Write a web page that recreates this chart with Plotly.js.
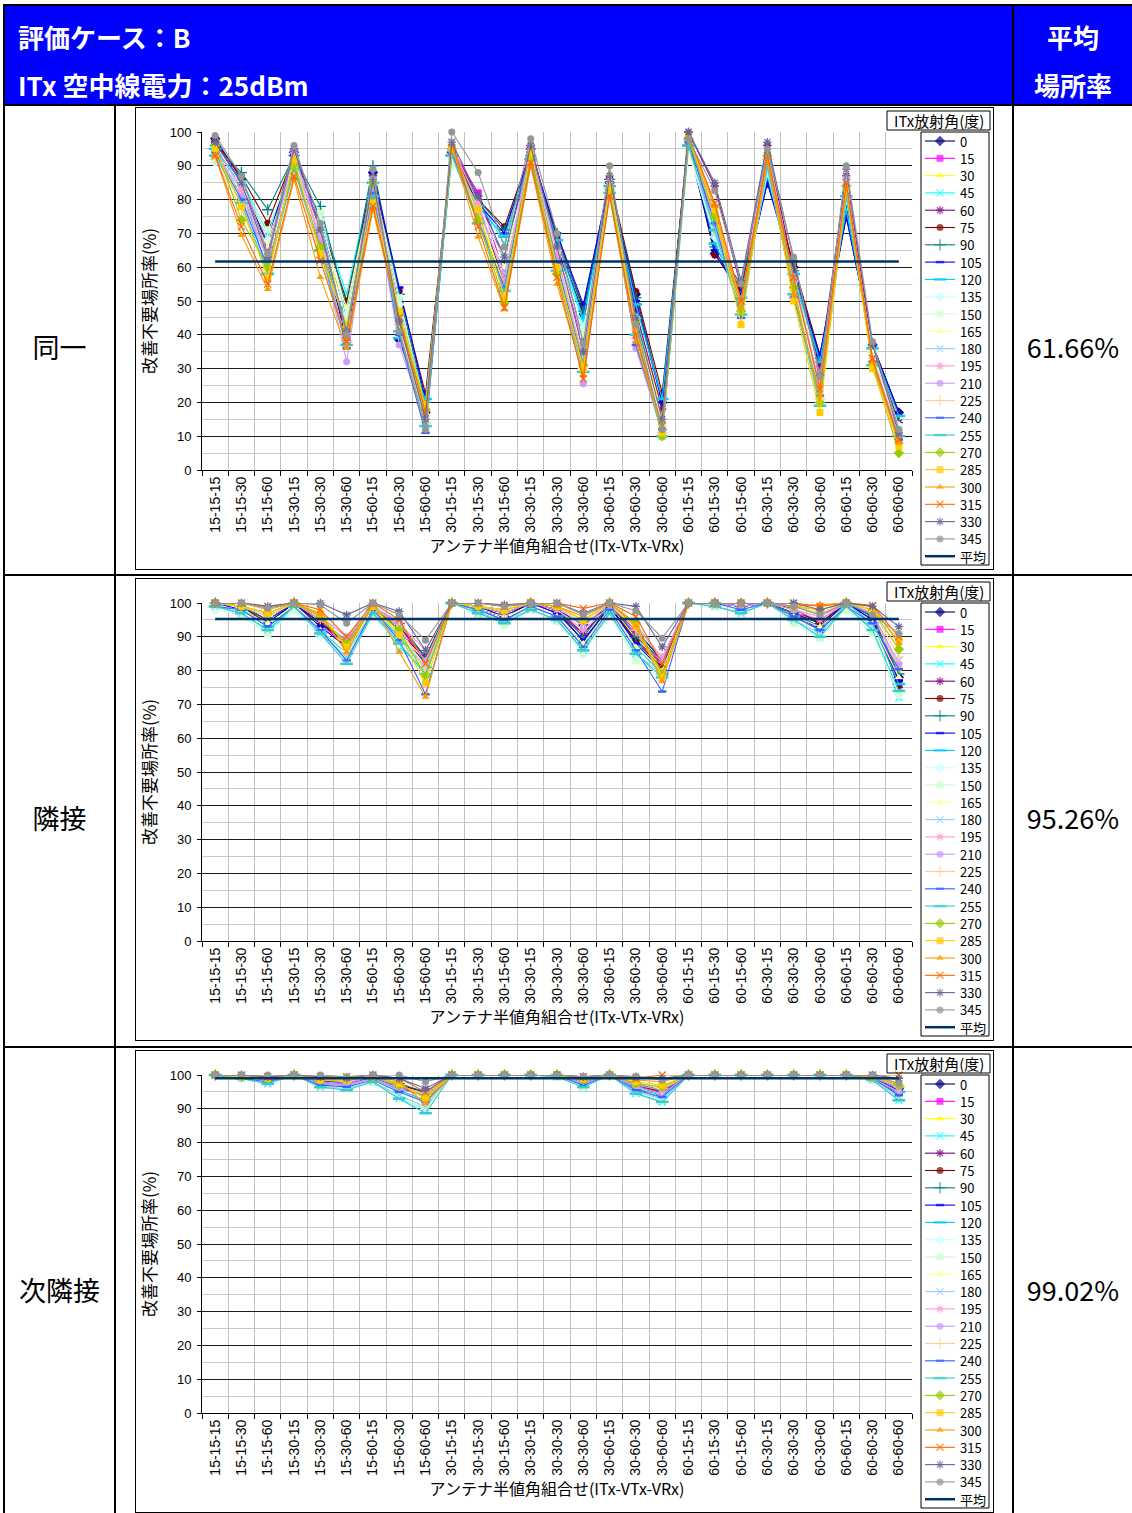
<!DOCTYPE html>
<html><head><meta charset="utf-8">
<script src="https://cdn.plot.ly/plotly-3.0.1.min.js"></script>
<style>
body{margin:0;background:#fff;}
#page{position:relative;width:1132px;height:1513px;overflow:hidden;font-family:"Noto Sans CJK JP",sans-serif;}
.blk{position:absolute;background:#000;}
.txt{position:absolute;white-space:nowrap;line-height:1;}
.hdr{color:#fff;font-weight:bold;font-size:26px;}
.lab{color:#000;font-size:27px;text-align:center;}
.frame{position:absolute;border:1px solid #000;box-sizing:border-box;background:#fff;}
.chart{position:absolute;}
</style></head><body>
<div id="page">
  <div style="position:absolute;left:3px;top:4px;width:1129px;height:101px;background:#0000ff"></div>
  <div class="blk" style="left:3px;top:4px;width:1129px;height:2px"></div>
  <div class="blk" style="left:3px;top:4px;width:2px;height:1509px"></div>
  <div class="blk" style="left:3px;top:104px;width:1129px;height:2px"></div>
  <div class="blk" style="left:3px;top:574px;width:1129px;height:2px"></div>
  <div class="blk" style="left:3px;top:1046px;width:1129px;height:2px"></div>
  <div class="blk" style="left:114px;top:105px;width:2px;height:1408px"></div>
  <div class="blk" style="left:1012px;top:4px;width:2px;height:1509px"></div>
  <div class="txt hdr" style="left:18px;top:24px;">評価ケース：B</div>
  <div class="txt hdr" style="left:18px;top:72px;">ITx 空中線電力：25dBm</div>
  <div class="txt hdr" style="left:1014px;width:118px;text-align:center;top:24px;">平均</div>
  <div class="txt hdr" style="left:1014px;width:118px;text-align:center;top:72px;">場所率</div>
  <div id="labels"></div>
  <div class="frame" style="left:135px;top:107px;width:859px;height:463px"></div>
  <div class="frame" style="left:135px;top:578px;width:859px;height:463px"></div>
  <div class="frame" style="left:135px;top:1050px;width:859px;height:463px"></div>
  <div id="c1" class="chart" style="left:136px;top:108px;width:857px;height:461px"></div>
  <div id="c2" class="chart" style="left:136px;top:579px;width:857px;height:461px"></div>
  <div id="c3" class="chart" style="left:136px;top:1051px;width:857px;height:461px"></div>
</div>
<script>
// ---- categories / series names ----
const categories = ['15-15-15','15-15-30','15-15-60','15-30-15','15-30-30','15-30-60','15-60-15','15-60-30','15-60-60',
  '30-15-15','30-15-30','30-15-60','30-30-15','30-30-30','30-30-60','30-60-15','30-60-30','30-60-60',
  '60-15-15','60-15-30','60-15-60','60-30-15','60-30-30','60-30-60','60-60-15','60-60-30','60-60-60'];
const angles = [0,15,30,45,60,75,90,105,120,135,150,165,180,195,210,225,240,255,270,285,300,315,330,345];
const rowLabels = ['同一','隣接','次隣接'];
const avgRates = [61.66, 95.26, 99.02];

// ---- 同一 ----
const same0   = [98,86,66, 94,70,38, 88,38.5,17, 94,79,55, 95,68,46, 85,52,20, 98,64,52, 85,60,33, 75,37,17];
const same15  = [97,85,65, 94,70,40, 87,48,17, 95,82,58, 95,67,36, 86,47,14, 99,71,53, 91,59,30, 82,35,11];
const same30  = [95,80,63, 93,68,47, 84,46,19, 96,76,55, 94,60,34, 88,47,16, 99,74,52, 92,55,29, 85,34,15];
const same45  = [94,86,70, 92,75,52, 88,50,18, 92,80,67, 91,66,44, 84,48,10, 95,67,50, 86,57,31, 78,35,14];
const same60  = [98,86,67, 95,72,39, 87,49,17, 95,81,62, 96,67,39, 86,47,18, 100,84,54, 96,59,31, 87,36,14];
const same75  = [97,87,73, 93,74,50, 87,53,22.5, 94,80,72, 94,69,48, 86,52.8,22.8, 97,63.6,54, 86,61,34, 76,37,17];
const same90  = [96,88,77, 93,78,48, 90,52,20, 93,80,71, 93,70,47, 86,51,21, 96,66,55, 86,59,33, 77,36,16];
const same105 = [97,85,68, 93,74,45, 88,54,21, 93,79,70, 94,70,49, 85,50,20, 96,65,52, 85,58,34, 75,37,17];
const same120 = [95,84,58, 90,65,44, 85,39,21, 93,78,69, 92,68,45, 84,49,21, 96,67,51, 87,58,32, 77,36,16];
const same135 = [91,85,68, 90,74,46, 85,49,14, 91,78,64, 90,65,42, 82,45,13, 94,69,48, 88,56,28, 80,35,13];
const same150 = [92,84,71, 91,76,44, 86,51,16, 92,76,63, 90,64,40, 83,42,14, 95,70,49, 90,55,25, 82,34,12];
const same165 = [94,82,66, 92,70,48, 85,47,15, 92,75,60, 91,63,36, 86,44,15, 94,72,48, 90,53,26, 83,33,12];
const same180 = [93,83,64, 91,69,41, 84,42,13, 93,77,58, 92,62,33, 84,41,12, 96,70,46, 89,52,23, 81,33,10];
const same195 = [96,83,62, 94,68,37, 84,42,13, 96,79,56, 95,64,32, 85,38,12, 98,76,50, 93,57,25, 86,33,10];
const same210 = [95,81,62, 94,67,32, 83,37,14, 96,76,52, 93,62,25.5, 84,36,11, 98,73,50, 94,56,24, 86,31,9];
const same225 = [92,77,59, 89,63,38, 80,43,14, 95,73,53, 91,58,30, 83,39,11, 98,78,49, 92,53,21, 84,31,8];
const same240 = [94,80,60, 90,66,36, 82,40,11, 94,74,54, 93,61,31, 83,37,12, 97,73,45, 91,51,22, 82,32,9];
const same255 = [93,79,58, 89,65,37, 81,41,13, 93,73,53, 92,59,29, 82,40,10, 96,71,46, 90,52,19, 81,31,10];
const same270 = [96,74,60, 90,66,42, 85,46,18, 95,74,49.5, 92,58,31, 83,44,10, 98,75,47, 93,54,20, 84,31,5];
const same285 = [95,78,57, 92,64,43, 79,47,19, 95,77,51, 94,60,30, 84,42,11, 99,77,43, 92,50,17, 83,30,7];
const same300 = [93,69.5,53.5, 86,57,36, 77,44,15, 96,69,47.5, 90,55,28, 81,38,12, 99,78,48, 92,52,22, 84,32,8];
const same315 = [93,72,55, 87,62,38, 78,45,17, 97,72,48, 91,57,27, 81,40,13, 99,79,50, 93,57,24, 85,33,9];
const same330 = [97,85,63, 95,71,41, 86,44,15, 97,81,63, 96,66,35, 87,45,15, 100,85,56, 97,62,28, 89,37,11];
const same345 = [99,87,64, 96,73,40, 89,41,12, 100,88,66, 98,70,37.5, 90,43,12, 98,82.6,55, 95,63,27.6, 90,38,12];

// ---- 隣接 ----
const adj0   = [100,99,95, 100,95,88, 99,93,84, 100,99,96, 100,98,93.5, 99,92,83, 100,100,99, 100,97,94, 100,96,78];
const adj15  = [100,99,96, 100,94,87, 99,93,83, 100,98,96, 100,97,91, 99,91,82, 100,100,99, 100,97,95, 100,97,77];
const adj30  = [100,99,96, 100,96,86, 99,91,80, 100,99,97, 100,98,92, 99,90,80, 100,100,99, 100,98,96, 100,97,80];
const adj45  = [99,97,91, 99,91,84, 97,87,80, 100,97,94, 98,95,86, 97,85,78, 100,99,97, 100,95,90, 99,92,72];
const adj60  = [100,99,95, 100,94,89, 99,93,84, 100,99,97, 100,98,91, 99,89,82, 100,100,99, 100,97,92, 100,96,75];
const adj75  = [100,99,94, 100,94,88, 99,92,83, 100,98,96, 100,98,88.6, 99,88.6,81, 100,100,99, 100,98.3,94, 100,95,75.8];
const adj90  = [100,99,95, 100,95,88, 99,94,84, 100,99,97, 100,98,90, 100,90,83, 100,100,99, 100,97,93, 100,96,79];
const adj105 = [100,98,94, 100,93,87, 99,92,82, 100,98,96, 100,97,89, 99,88,80, 100,100,99, 100,96,93, 100,95,77];
const adj120 = [99,98,93, 99,92,85, 98,90,81, 100,98,95, 99,96,88, 98,87,79, 100,100,98, 100,96,92, 100,94,76];
const adj135 = [98,97,91, 98,90,84, 96,88,80, 100,97,94, 98,95,85, 97,84,78, 100,99,97, 100,95,90, 98,91,73];
const adj150 = [99,96,91, 98,91,85, 97,89,82, 100,96,93.5, 98,94.5,85, 96.5,83,79, 100,99,97, 100,94,89.6, 98,91,73.4];
const adj165 = [99,98,94, 99,92,86, 98,91,83, 100,98,96, 99,96,88, 98,87,80, 100,100,98, 100,96,93, 99,94,78];
const adj180 = [99,97,92, 99,91,84, 97,89,81, 100,97,95, 98,95,86, 97,85,79, 100,99,97, 100,95,91, 99,93,83];
const adj195 = [100,99,96, 100,95,89, 99,94,86, 100,99,97, 100,98,92, 99,93,84, 100,100,99, 100,98,95, 100,97,81];
const adj210 = [100,99,97, 100,96,90, 99,94.5,82.7, 100,99,98, 100,99,93, 100,94,83, 100,100,99, 100,98,96, 100,97,82];
const adj225 = [100,99,96, 100,96,88, 99,93,80, 100,99,98, 100,99,94, 100,92,79, 100,100,100, 100,99,97, 100,98,84];
const adj240 = [99,98,93, 99,92,83, 98,89,73, 100,98,95, 99,96,87, 98,86,73.8, 100,100,98, 100,96,92, 99,94,80.4];
const adj255 = [99,97,92, 99,91,82, 97,88,79, 100,97,94, 98,95,86, 97,85,78, 100,99,97, 100,95,90, 99,92,74];
const adj270 = [100,99,97, 100,96,88, 99,92,78.3, 100,99,98, 100,99,95, 100,94,79, 100,100,100, 100,99,98, 100,98,86.3];
const adj285 = [100,99,97, 100,97,87, 99,90.6,76.3, 100,99,98, 100,99,95, 100,93,78, 100,100,100, 100,99,98, 100,98,89];
const adj300 = [100,100,98, 100,96.7,85.3, 100,85.6,72.2, 100,100,99, 100,99,96, 100,93.3,76.8, 100,100,100, 100,99,99.6, 100,99,88];
const adj315 = [100,100,99, 100,98,90, 100,95,82, 100,100,99, 100,100,98.4, 100,96,82, 100,100,100, 100,100,99, 100,99.3,90];
const adj330 = [100,100,99, 100,100,96.5, 100,97.5,86, 100,100,99.5, 100,100,97, 100,99,87, 100,100,100, 100,100,98, 100,99,93];
const adj345 = [100,100,98.5, 100,99.5,94, 100,96.5,89, 100,100,99, 100,100,96.5, 100,97.7,89.6, 100,100,100, 100,99,96.5, 100,96.5,91];

// ---- 次隣接 ----
const next0   = [100,99.5,99, 100,98,98, 99.5,97,95, 100,100,100, 100,100,98, 100,97,95, 100,100,100, 100,100,100, 100,99.5,96];
const next15  = [100,99.5,98.5, 100,98,97.5, 99.5,96,94, 100,100,100, 100,100,98, 100,96.5,95, 100,100,100, 100,100,100, 100,99.5,96];
const next30  = [100,99.5,99, 100,98.5,98, 99.5,97,94, 100,100,100, 100,100,98.5, 100,97,95, 100,100,100, 100,100,100, 100,99.5,96.5];
const next45  = [100,99,97.4, 100,96.4,96, 98,93,90, 100,100,100, 100,99.5,96.4, 100,94.5,92, 100,100,100, 100,100,100, 100,98.5,92.5];
const next60  = [100,99.5,98.5, 100,97.5,97, 99.5,96,94, 100,100,100, 100,100,97.5, 100,96,93, 100,100,100, 100,100,100, 100,99,94.5];
const next75  = [100,99.5,99, 100,98,98, 99.5,97,95, 100,100,100, 100,100,98, 100,97,95, 100,100,100, 100,100,100, 100,99.5,96];
const next90  = [100,99.5,99, 100,98.5,98, 99.5,97.5,95, 100,100,100, 100,100,98.5, 100,97.5,95.5, 100,100,100, 100,100,100, 100,99.5,96.5];
const next105 = [100,99.5,98.5, 100,98,97.5, 99.5,96.5,94, 100,100,100, 100,100,98, 100,96.5,94.5, 100,100,100, 100,100,100, 100,99,95.5];
const next120 = [100,99.5,98, 100,97.5,97, 99,95.5,92.5, 100,100,100, 100,100,97.5, 100,96,94, 100,100,100, 100,100,100, 100,99,95];
const next135 = [100,99,97.5, 100,96.5,96, 98,93.5,89.5, 100,100,100, 100,99.5,96.5, 100,95,92.5, 100,100,100, 100,100,100, 100,98.5,93];
const next150 = [100,99,97.5, 100,96.5,96, 98,94,90, 100,100,100, 100,99.5,96.5, 100,95,93, 100,100,100, 100,100,100, 100,98.5,93.5];
const next165 = [100,99.5,98, 100,97,96.5, 98.5,95,91.5, 100,100,100, 100,100,97, 100,95.5,93.5, 100,100,100, 100,100,100, 100,99,94];
const next180 = [100,99,97.5, 100,96.5,96, 98,94,90.5, 100,100,100, 100,99.5,97, 100,95,93, 100,100,100, 100,100,100, 100,98.5,93.5];
const next195 = [100,99.5,98.5, 100,97.5,97, 99,96,93.5, 100,100,100, 100,100,97.5, 100,96.5,94.5, 100,100,100, 100,100,100, 100,99,95];
const next210 = [100,99.5,99, 100,98,97.5, 99.5,96.5,94.5, 100,100,100, 100,100,98, 100,97,95.5, 100,100,100, 100,100,100, 100,99.5,96];
const next225 = [100,99.5,99, 100,98.5,98, 99.5,97,94, 100,100,100, 100,100,98.5, 100,97.5,96, 100,100,100, 100,100,100, 100,99.5,96.5];
const next240 = [100,99,98, 100,97,96.5, 98.5,95,92, 100,100,100, 100,100,97, 100,95.5,93.5, 100,100,100, 100,100,100, 100,99,94];
const next255 = [100,99,97.4, 100,96.4,95.5, 98,93,88.7, 100,100,100, 100,99.5,96.4, 100,94.5,92, 100,100,100, 100,100,100, 100,98.5,92.5];
const next270 = [100,99.5,99, 100,98.5,98.5, 99.5,97,93.5, 100,100,100, 100,100,98.5, 100,97.5,96.5, 100,100,100, 100,100,100, 100,99.5,97];
const next285 = [100,99.5,99, 100,98.5,98.5, 99.5,97.5,93, 100,100,100, 100,100,99, 100,98,97, 100,100,100, 100,100,100, 100,99.5,97.5];
const next300 = [100,100,99.5, 100,99,99, 100,98,91.6, 100,100,100, 100,100,99, 100,98.5,98, 100,100,100, 100,100,100, 100,99.5,98.5];
const next315 = [100,100,99.5, 100,99.5,99.5, 100,99,95, 100,100,100, 100,100,99.5, 100,99,100, 100,100,100, 100,100,100, 100,100,100];
const next330 = [100,100,99.5, 100,99.5,99, 100,99,96, 100,100,100, 100,100,99.5, 100,99.5,99, 100,100,100, 100,100,100, 100,100,99];
const next345 = [100,100,100, 100,100,99.5, 100,100,98, 100,100,100, 100,100,99.5, 100,99.5,98.5, 100,100,100, 100,100,100, 100,100,97.5];

const sameSeries = [same0,same15,same30,same45,same60,same75,same90,same105,same120,same135,same150,same165,same180,same195,same210,same225,same240,same255,same270,same285,same300,same315,same330,same345];
const adjSeries  = [adj0,adj15,adj30,adj45,adj60,adj75,adj90,adj105,adj120,adj135,adj150,adj165,adj180,adj195,adj210,adj225,adj240,adj255,adj270,adj285,adj300,adj315,adj330,adj345];
const nextSeries = [next0,next15,next30,next45,next60,next75,next90,next105,next120,next135,next150,next165,next180,next195,next210,next225,next240,next255,next270,next285,next300,next315,next330,next345];

// ---- styles ----
const colors = ['#000080','#FF00FF','#FFFF00','#00FFFF','#800080','#800000','#008080','#0000FF','#00CCFF','#CCFFFF','#CCFFCC','#FFFF99',
  '#99CCFF','#FF99CC','#CC99FF','#FFCC99','#3366FF','#33CCCC','#99CC00','#FFCC00','#FF9900','#FF6600','#666699','#969696'];
const symbols = ['diamond','square','triangle-up','x-thin-open','asterisk-open','circle','cross-thin-open','line-ew-open','line-ew-open',
  'diamond','square','triangle-up','x-thin-open','asterisk-open','circle','cross-thin-open','line-ew-open','line-ew-open',
  'diamond','square','triangle-up','x-thin-open','asterisk-open','circle'];
const avgColor = '#003366';
const fontJP = '"Noto Sans CJK JP", sans-serif';
const fontNum = '"Liberation Sans", Arial, sans-serif';

function markerFor(i) {
  const s = symbols[i];
  const open = s.endsWith('-open');
  let sz = 7;
  if (s === 'diamond') sz = 8;
  if (s.startsWith('x-thin') || s.startsWith('asterisk')) sz = 7;
  if (s.startsWith('cross')) sz = 8;
  if (s.startsWith('line-ew')) sz = (angles[i] === 120 || angles[i] === 255) ? 9 : 6;
  return {symbol: s, color: colors[i], size: sz,
    line: {color: colors[i], width: open ? (s.startsWith('line-ew') ? 2.5 : 1.3) : 0}};
}

// labels in left and right columns
const rowCenters = [347, 818, 1290];
const labDiv = document.getElementById('labels');
rowLabels.forEach((t, k) => {
  const a = document.createElement('div');
  a.className = 'txt lab';
  a.style.left = '5px'; a.style.width = '109px'; a.style.top = (rowCenters[k] - 14) + 'px';
  a.textContent = t; labDiv.appendChild(a);
  const b = document.createElement('div');
  b.className = 'txt lab';
  b.style.left = '1014px'; b.style.width = '118px'; b.style.top = (rowCenters[k] - 14) + 'px';
  b.textContent = avgRates[k].toFixed(2) + '%'; labDiv.appendChild(b);
});

function makeChart(divId, seriesList, avg) {
  // local geometry: paper spans page x 202..991, y 110..567 (chart-1 frame)
  const W = 789, H = 457;
  const px = x => (x - 202) / W;
  const py = y => (567 - y) / H;
  const traces = [];
  seriesList.forEach((vals, i) => {
    traces.push({type: 'scatter', mode: 'lines+markers', x: categories, y: vals, name: String(angles[i]),
      line: {color: colors[i], width: 1.1}, marker: markerFor(i), cliponaxis: false,
      xaxis: 'x', yaxis: 'y', showlegend: false, hoverinfo: 'skip'});
  });
  traces.push({type: 'scatter', mode: 'lines', x: categories, y: categories.map(() => avg), name: '平均',
    line: {color: avgColor, width: 2.5}, xaxis: 'x', yaxis: 'y', showlegend: false, hoverinfo: 'skip'});

  // custom legend on its own hidden axes
  const annotations = [];
  const names = angles.map(String).concat(['平均']);
  names.forEach((nm, i) => {
    const yy = 9 + 17.3 * i;
    if (i < angles.length) {
      const m = markerFor(i);
      traces.push({type: 'scatter', mode: 'lines+markers', x: [4, 19, 34], y: [yy, yy, yy],
        line: {color: colors[i], width: 1.1},
        marker: {symbol: m.symbol, color: m.color, size: [0, m.size, 0], line: {color: m.line.color, width: [0, m.line.width, 0]}},
        xaxis: 'x2', yaxis: 'y2', showlegend: false, hoverinfo: 'skip', cliponaxis: false});
    } else {
      traces.push({type: 'scatter', mode: 'lines', x: [4, 34], y: [yy, yy], line: {color: avgColor, width: 2.5},
        xaxis: 'x2', yaxis: 'y2', showlegend: false, hoverinfo: 'skip', cliponaxis: false});
    }
    annotations.push({xref: 'x2', yref: 'y2', x: 37, y: yy, text: nm, showarrow: false, xanchor: 'left', yanchor: 'middle',
      font: {family: fontJP, size: 13, color: '#000'}});
  });
  annotations.push({xref: 'paper', yref: 'paper', x: px(939), y: py(121), text: 'ITx放射角(度)', showarrow: false,
    xanchor: 'center', yanchor: 'middle', font: {family: fontJP, size: 15, color: '#000'}});

  const shapes = [
    {type: 'rect', xref: 'paper', yref: 'paper', x0: px(921), x1: px(989), y0: py(565), y1: py(132), line: {color: '#000', width: 1}},
    {type: 'rect', xref: 'paper', yref: 'paper', x0: px(887), x1: px(990), y0: py(130), y1: py(111), line: {color: '#000', width: 1}}
  ];

  const layout = {
    width: 857, height: 461, margin: {l: 66, r: 2, t: 2, b: 2},
    paper_bgcolor: '#fff', plot_bgcolor: '#fff', showlegend: false,
    font: {family: fontJP, color: '#000'},
    xaxis: {domain: [0, px(912)], type: 'category', range: [-0.5, 26.5], tickson: 'boundaries',
      ticks: 'outside', ticklen: 5, tickcolor: '#000', showgrid: true, gridcolor: '#c0c0c0', gridwidth: 1,
      showline: true, linecolor: '#000', linewidth: 1, tickangle: -90, zeroline: false,
      tickfont: {family: fontNum, size: 14, color: '#000'},
      title: {text: 'アンテナ半値角組合せ(ITx-VTx-VRx)', font: {family: fontJP, size: 16, color: '#000'}, standoff: 9},
      anchor: 'y', fixedrange: true},
    yaxis: {domain: [py(470), py(132)], range: [0, 100], tick0: 0, dtick: 10, ticks: 'outside', ticklen: 4, tickcolor: '#000',
      showgrid: true, gridcolor: '#1a1a1a', gridwidth: 1, zeroline: false, showline: true, linecolor: '#000', linewidth: 1,
      minor: {dtick: 5, showgrid: true, gridcolor: '#c8c8c8', gridwidth: 1},
      tickfont: {family: fontNum, size: 13, color: '#000'}, ticklabelstandoff: 3,
      title: {text: '改善不要場所率(%)', font: {family: fontJP, size: 17, color: '#000'}, standoff: 12},
      anchor: 'x', fixedrange: true},
    xaxis2: {domain: [px(921), px(989)], range: [0, 68], visible: false, anchor: 'y2', fixedrange: true},
    yaxis2: {domain: [py(565), py(132)], range: [433, 0], visible: false, anchor: 'x2', fixedrange: true},
    annotations: annotations, shapes: shapes
  };
  Plotly.newPlot(divId, traces, layout, {staticPlot: true, displayModeBar: false});
}

makeChart('c1', sameSeries, avgRates[0]);
makeChart('c2', adjSeries, avgRates[1]);
makeChart('c3', nextSeries, avgRates[2]);
</script>
</body></html>
